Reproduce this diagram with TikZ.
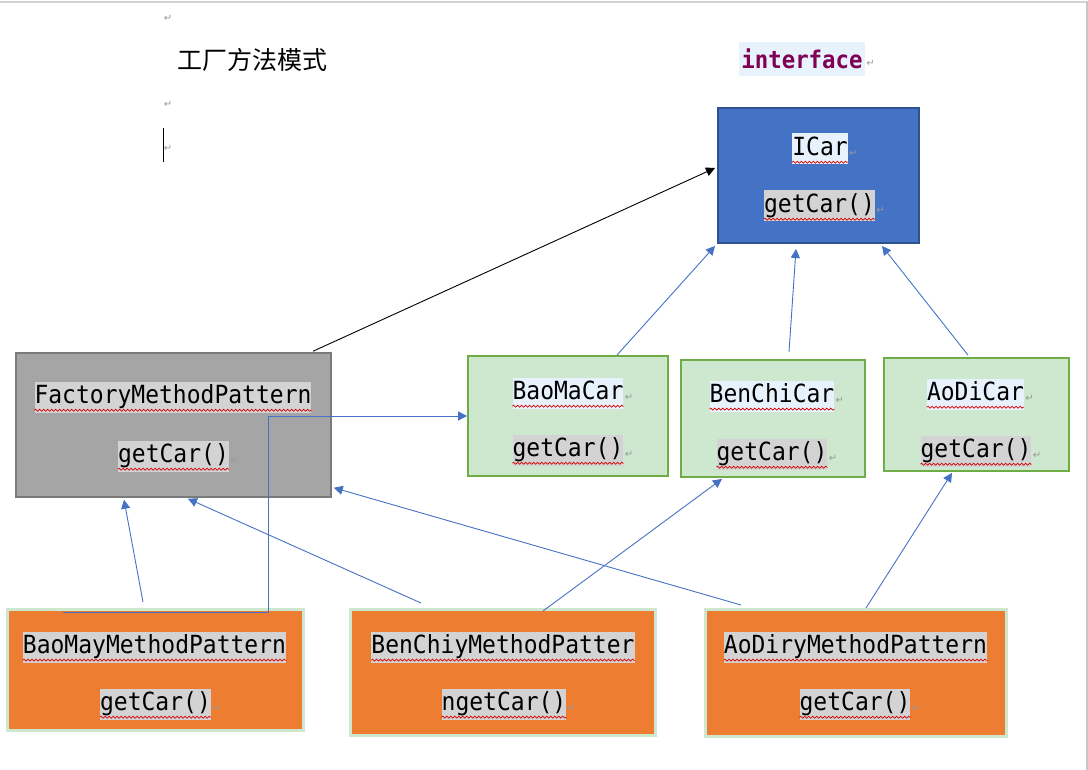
\documentclass[tikz,border=0pt]{standalone}
\usepackage{fontspec}
\usepackage{tikz}
\usetikzlibrary{arrows.meta,decorations.pathmorphing}
\newfontfamily\cjk{Noto Sans CJK SC}
\newfontfamily\codefont[FakeStretch=0.92]{DejaVu Sans Mono}
\newfontfamily\symfont{DejaVu Sans}
\definecolor{carblue}{HTML}{4472C4}
\definecolor{carblueline}{HTML}{2F528F}
\definecolor{factgray}{HTML}{A5A5A5}
\definecolor{factline}{HTML}{7A7A7A}
\definecolor{cargreen}{HTML}{CDE8CF}
\definecolor{cargreenline}{HTML}{70AD47}
\definecolor{methorange}{HTML}{ED7D31}
\definecolor{keyword}{HTML}{7F0055}
\definecolor{lightbg}{HTML}{E8F2FD}
\definecolor{codebg}{HTML}{D3D3D3}

\tikzset{
  ibox/.style={draw=carblueline, line width=2pt, fill=carblue, inner sep=0pt},
  factbox/.style={draw=factline, line width=1.5pt, fill=factgray, inner sep=0pt},
  carbox/.style={draw=cargreenline, line width=1.8pt, fill=cargreen, inner sep=0pt},
  methbox/.style={draw=cargreen, line width=3pt, fill=methorange, inner sep=0pt},
  code/.style={font=\codefont\fontsize{25}{25}\selectfont, fill=codebg, inner xsep=0pt, inner ysep=1pt, text height=21pt, text depth=8pt},
  namebg/.style={code, fill=lightbg},
  retmark/.style={font=\symfont\fontsize{10}{10}\selectfont, text=gray!80, inner sep=1pt},
  ret/.style={label={[retmark, yshift=-4pt]east:↵}},
  link/.style={carblue, line width=0.9pt, -{Triangle[length=9pt,width=9pt]}},
  spell/.style={red!85!black, line width=0.7pt, decorate, decoration={snake, amplitude=1pt, segment length=4pt}}
}

\begin{document}
\begin{tikzpicture}[x=1pt, y=-1pt]
\useasboundingbox (0,0) rectangle (1088,770);
\draw [gray!35, line width=1.5pt] (0,2) -- (1088,2);
\draw [gray!45, line width=1.5pt] (1087,2) -- (1087,770);

\node at (168, 18) [retmark] (p1) {↵};
\node at (168, 104) [retmark] (p2) {↵};
\node at (168, 148) [retmark] (p3) {↵};
\draw [line width=0.8pt] (163,128) -- (163,162);
\node at (252, 60) [font=\cjk\fontsize{25}{25}\selectfont] (title) {工厂方法模式};
\node at (802, 59) [font=\codefont\bfseries\fontsize{24.3}{24.3}\selectfont, text=keyword, fill=lightbg, inner xsep=2.5pt, minimum height=34pt, ret] (iface) {interface};

% boxes
\node at (818.5, 175.5) [ibox, minimum width=201pt, minimum height=135pt] (icar) {};
\node at (173.5, 425) [factbox, minimum width=315pt, minimum height=144pt] (fmp) {};
\node at (568, 416) [carbox, minimum width=200pt, minimum height=120pt] (baoma) {};
\node at (773, 418.5) [carbox, minimum width=184pt, minimum height=117pt] (benchi) {};
\node at (976.5, 414.5) [carbox, minimum width=185pt, minimum height=113pt] (aodi) {};
\node at (155.5, 670) [methbox, minimum width=296pt, minimum height=121pt] (baomay) {};
\node at (503, 672.5) [methbox, minimum width=305pt, minimum height=126pt] (benchiy) {};
\node at (856, 673) [methbox, minimum width=301pt, minimum height=127pt] (aodiry) {};

% texts
\node at (820, 149) [namebg, ret] (icarn) {ICar};
\node at (819.5, 206) [code, ret] (icarm) {getCar()};
\node at (173, 397) [code] (fmpn) {FactoryMethodPattern};
\node at (173.5, 456) [code, ret] (fmpm) {getCar()};
\node at (568, 393) [namebg, ret] (baoman) {BaoMaCar};
\node at (568, 450) [code, ret] (baomam) {getCar()};
\node at (772, 396) [namebg, ret] (benchin) {BenChiCar};
\node at (772, 454) [code, ret] (benchim) {getCar()};
\node at (975.5, 394) [namebg, ret] (aodin) {AoDiCar};
\node at (976, 451) [code, ret] (aodim) {getCar()};
\node at (154.5, 647) [code] (baomayn) {BaoMayMethodPattern};
\node at (155.5, 704) [code, ret] (baomaym) {getCar()};
\node at (503, 647) [code] (benchiyn) {BenChiyMethodPatter};
\node at (504, 704) [code, ret] (benchiym) {ngetCar()};
\node at (855.5, 647) [code] (aodiryn) {AoDiryMethodPattern};
\node at (855, 704) [code, ret] (aodirym) {getCar()};
\foreach \n in {icarn, icarm, fmpn, fmpm, baoman, baomam, benchin, benchim, aodin, aodim, baomayn, baomaym, benchiyn, benchiym, aodiryn, aodirym}
  \draw [spell] ([yshift=2.5pt]\n.south west) -- ([yshift=2.5pt]\n.south east);

% arrows
\draw [link, black] ([xshift=139.5pt,yshift=1pt]fmp.north) to ([xshift=-2pt,yshift=7.5pt]icar.west);
\draw [link] ([xshift=49pt]baoma.north) to ([xshift=-2pt,yshift=-2pt]icar.south west);
\draw [link] ([xshift=16pt,yshift=7pt]benchi.north) to ([xshift=-22.5pt,yshift=-5pt]icar.south);
\draw [link] ([xshift=-8.5pt,yshift=2pt]aodi.north) to ([xshift=63.5pt,yshift=-2pt]icar.south);
\draw [link] ([xshift=-12.5pt,yshift=6pt]baomay.north) to ([xshift=-49.5pt,yshift=-2pt]fmp.south);
\draw [link] ([xshift=-82pt,yshift=5pt]benchiy.north) to ([xshift=14.5pt,yshift=-1pt]fmp.south);
\draw [link] ([xshift=-115pt,yshift=3pt]aodiry.north) to ([xshift=2pt,yshift=10pt]fmp.south east);
\draw [link] ([xshift=40pt,yshift=-3pt]benchiy.north) to ([xshift=-51pt,yshift=-1pt]benchi.south);
\draw [link] ([xshift=10pt]aodiry.north) to ([xshift=-24.5pt,yshift=-1pt]aodi.south);
\coordinate (elb) at (63, 612);
\draw [link] (elb) -- ++(205,0) |- (baoma.west);
\end{tikzpicture}
\end{document}
